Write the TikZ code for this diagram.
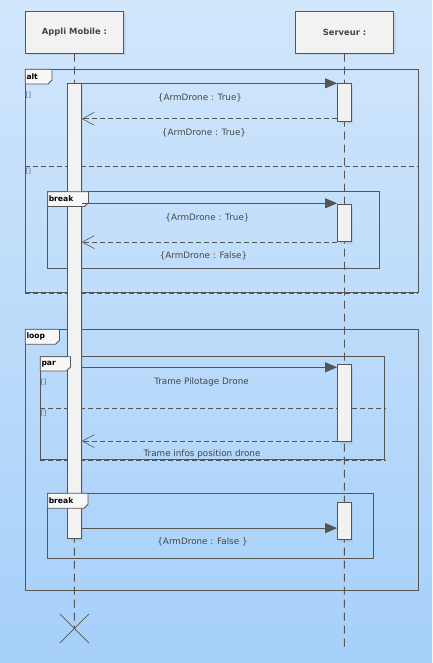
\documentclass[tikz,border=0pt]{standalone}
\usepackage{fontspec}
\setmainfont{DejaVu Sans}
\usetikzlibrary{arrows.meta}
\usetikzlibrary{shadows}
\definecolor{linegray}{RGB}{85,85,85}
\definecolor{txtgray}{RGB}{70,70,70}
\definecolor{boxgray}{RGB}{242,242,242}
\definecolor{tabgray}{RGB}{248,248,248}
\definecolor{bgtop}{RGB}{209,230,251}
\definecolor{bgbot}{RGB}{166,208,250}
\definecolor{guardblue}{RGB}{90,90,170}
\tikzset{
	head/.style={draw=linegray, fill=boxgray, line width=0.8pt, minimum width=98pt, minimum height=42pt, inner sep=0pt, text=txtgray, font=\bfseries\fontsize{8.4}{9}\selectfont, drop shadow={opacity=0.15, shadow xshift=2pt, shadow yshift=-2pt}},
	act/.style={draw=linegray, fill=boxgray, line width=0.8pt, minimum width=13.6pt, inner sep=0pt, anchor=north, drop shadow={opacity=0.15, shadow xshift=2pt, shadow yshift=-2pt}},
	life/.style={draw=linegray, line width=0.9pt, dash pattern=on 8pt off 5pt},
	call/.style={draw=linegray, line width=0.8pt, -{Triangle[length=12pt,width=10pt]}},
	reply/.style={draw=linegray, line width=0.8pt, dash pattern=on 5pt off 3pt, -{Straight Barb[length=12pt,width=13pt,line width=0.6pt]}},
	frame/.style={draw=linegray, line width=0.8pt},
	sep/.style={draw=linegray, line width=0.8pt, dash pattern=on 5pt off 3pt},
	tab/.style={draw=linegray, fill=tabgray, line width=0.8pt},
	tablab/.style={anchor=west, inner sep=0pt, font=\bfseries\fontsize{7.6}{8}\selectfont},
	msg/.style={text=txtgray, inner sep=0pt, font=\fontsize{8.8}{10}\selectfont},
	guard/.style={text=guardblue, inner sep=0pt, font=\fontsize{7}{8}\selectfont}
}
\begin{document}
\begin{tikzpicture}[x=1pt, y=-1pt]
	\shade[top color=bgtop, bottom color=bgbot] (0,0) rectangle (432,663);
	\useasboundingbox (0,0) rectangle (432,663);

	\node[head] (app) at (74.5,32.3) {Appli Mobile :};
	\node[head] (srv) at (344.5,32.3) {Serveur :};
	\coordinate (appEnd) at (74.4,628.5);
	\coordinate (srvEnd) at (344.4,649);
	\draw[life] (app.south) -- (appEnd);
	\draw[life] (srv.south) -- (srvEnd);
	\draw[linegray, line width=0.6pt] ([shift={(-14.5pt,14.5pt)}]appEnd) -- ([shift={(14.5pt,-14.5pt)}]appEnd);
	\draw[linegray, line width=0.6pt] ([shift={(-14.5pt,-14.5pt)}]appEnd) -- ([shift={(14.5pt,14.5pt)}]appEnd);

	\draw[frame] (25.3,69.3) rectangle (418.3,292.5);
	\draw[sep] (25.3,293.6) -- (418.3,293.6);
	\draw[sep] (25.3,166.3) -- (418.3,166.3);
	\draw[frame] (47.7,191.7) rectangle (379.3,268.3);
	\draw[frame] (25.3,329.3) rectangle (418.3,590);
	\draw[frame] (40.3,356.7) rectangle (384.7,459.3);
	\draw[sep] (40.3,460.4) -- (386,460.4);
	\draw[sep] (40.3,408.3) -- (386,408.3);
	\draw[frame] (47.7,493.3) rectangle (373.3,558.3);

	\node[act, minimum height=455pt] (a1) at (74.5,83.3) {};
	\node[act, minimum height=38pt] (s1) at (344.3,83.3) {};
	\node[act, minimum height=37pt] (s2) at (344.3,204.3) {};
	\node[act, minimum height=77pt] (s3) at (344.3,364.3) {};
	\node[act, minimum height=37pt] (s4) at (344.3,502.3) {};

	\draw[tab] (25.3,69.3) -- (52,69.3) -- (52,80) -- (48,84) -- (25.3,84) -- cycle;
	\node[tablab] (altlab) at (26.3,76.5) {alt};
	\draw[tab] (47.7,191.7) -- (88.5,191.7) -- (88.5,202.5) -- (84.5,206.5) -- (47.7,206.5) -- cycle;
	\node[tablab] (brklab) at (48.6,199) {break};
	\draw[tab] (25.3,329.3) -- (59.5,329.3) -- (59.5,340.3) -- (55.5,344.3) -- (25.3,344.3) -- cycle;
	\node[tablab] (looplab) at (26.3,336.5) {loop};
	\draw[tab] (40.3,356.7) -- (70.5,356.7) -- (70.5,367) -- (66.5,371) -- (40.3,371) -- cycle;
	\node[tablab] (parlab) at (41.3,363.8) {par};
	\draw[tab] (47.7,493.3) -- (88,493.3) -- (88,504.3) -- (84,508.3) -- (47.7,508.3) -- cycle;
	\node[tablab] (brk2lab) at (48.6,500.8) {break};

	\node[guard] (g1) at (28.5,95) {[]};
	\node[guard] (g2) at (28.5,171.5) {[]};
	\node[guard] (g3) at (43.7,382.7) {[]};
	\node[guard] (g4) at (43.7,413.7) {[]};

	\coordinate (r1) at ([yshift=3.3pt]s1.south west);
	\coordinate (m2) at ([yshift=1pt]s2.north west);
	\coordinate (m3) at ([yshift=-3pt]s3.north west);
	\coordinate (r3) at ([yshift=1pt]s3.south west);
	\coordinate (m4) at ([yshift=12pt]s4.south west);

	\draw[call] (a1.east |- s1.north) -- (s1.north west);
	\draw[reply] (r1) -- (a1.east |- r1);
	\draw[call] (a1.east |- m2) -- (m2);
	\draw[reply] (s2.south west) -- (a1.east |- s2.south);
	\draw[call] (a1.east |- m3) -- (m3);
	\draw[reply] (r3) -- (a1.east |- r3);
	\draw[call] (a1.east |- m4) -- (m4);

	\node[msg] (l1) at (200,98) {\{ArmDrone : True\}};
	\node[msg] (l2) at (204,132.5) {\{ArmDrone : True\}};
	\node[msg] (l3) at (207.5,217.5) {\{ArmDrone : True\}};
	\node[msg] (l4) at (203.5,255.7) {\{ArmDrone : False\}};
	\node[msg] (l5) at (201.5,381.7) {Trame Pilotage Drone};
	\node[msg] (l6) at (202,454.5) {Trame infos position drone};
	\node[msg] (l7) at (202.5,541.7) {\{ArmDrone : False \}};
\end{tikzpicture}
\end{document}
